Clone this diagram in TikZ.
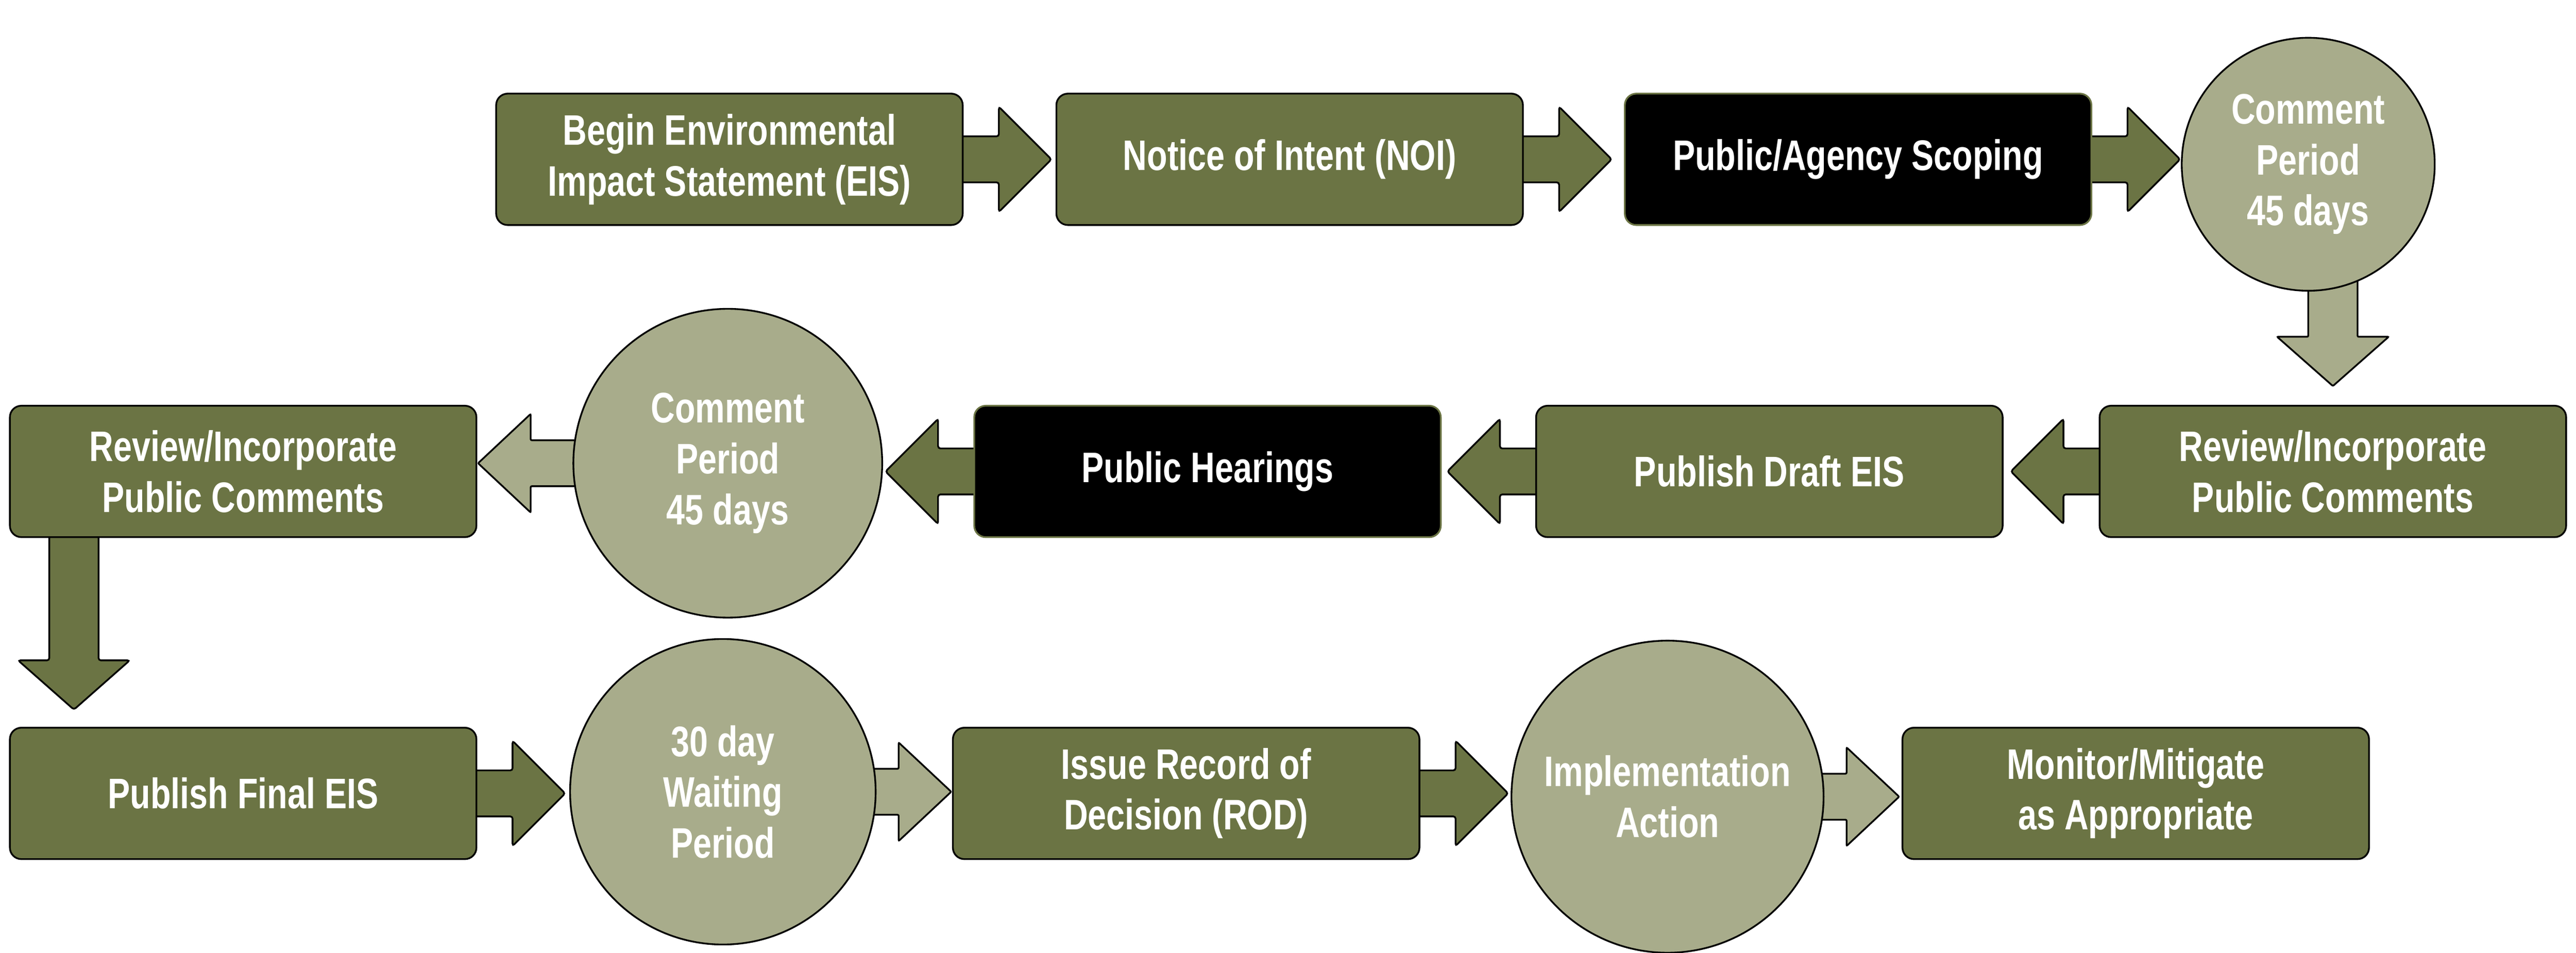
\documentclass[tikz,border=0pt]{standalone}
\usepackage{fontspec}
\setmainfont{Liberation Sans}[FakeStretch=0.78]
\usetikzlibrary{calc}
\definecolor{olive}{HTML}{6B7444}
\definecolor{sage}{HTML}{A8AC8B}
\newcommand\blkarrow[7]{%
 \begin{scope}[shift={(#1)},rotate=#3]
 \draw[#7] (-6,#4) -- ({#2-#6},#4) -- ({#2-#6},#5) -- (#2,0) -- ({#2-#6},-#5) -- ({#2-#6},-#4) -- (-6,-#4) -- cycle;
 \end{scope}}
\begin{document}
\begin{tikzpicture}[x=0.05cm,y=-0.05cm,
 txt/.style={text=white,font=\bfseries\fontsize{37}{44}\selectfont,align=center},
 box/.style={txt,draw=black,line width=1.5pt,fill=olive,rounded corners=0.35cm,minimum width=14.2cm,minimum height=4cm,inner sep=0pt},
 bbox/.style={box,fill=black,draw=olive},
 circ/.style={txt,circle,draw=black,line width=1.5pt,fill=sage,inner sep=0pt},
 barr/.style={fill=olive,draw=black,line width=1.5pt,rounded corners=2pt},
 carr/.style={fill=sage,draw=black,line width=1.5pt,rounded corners=1pt}]
\useasboundingbox (0,0) rectangle (1568,580);
% nodes positions
\coordinate (b1) at (444,97);
\coordinate (b2) at (785,97);
\coordinate (b3) at (1131,97);
\coordinate (c1) at (1405,100);
\coordinate (b4) at (1420,287);
\coordinate (b5) at (1077,287);
\coordinate (b6) at (735,287);
\coordinate (c2) at (443,282);
\coordinate (b7) at (148,287);
\coordinate (b8) at (148,483);
\coordinate (c3) at (440,482);
\coordinate (b9) at (722,483);
\coordinate (c4) at (1015,485);
\coordinate (b10) at (1300,483);
% arrows
\blkarrow{$(b1)+(142,0)$}{54}{0}{14}{32}{32}{barr}
\blkarrow{$(b2)+(142,0)$}{54}{0}{14}{32}{32}{barr}
\blkarrow{$(b3)+(142,0)$}{54}{0}{14}{32}{32}{barr}
\blkarrow{$(c1)+(15,70)$}{65}{-90}{15}{34}{30}{carr}
\blkarrow{$(b4)+(-142,0)$}{54}{180}{14}{32}{32}{barr}
\blkarrow{$(b5)+(-142,0)$}{54}{180}{14}{32}{32}{barr}
\blkarrow{$(b6)+(-142,0)$}{54}{180}{14}{32}{32}{barr}
\blkarrow{$(c2)+(-90,0)$}{62}{180}{14}{30}{32}{carr}
\blkarrow{$(b7)+(-103,40)$}{105}{-90}{15}{34}{30}{barr}
\blkarrow{$(b8)+(142,0)$}{54}{0}{14}{32}{32}{barr}
\blkarrow{$(c3)+(90,0)$}{49}{0}{14}{30}{32}{carr}
\blkarrow{$(b9)+(142,0)$}{54}{0}{14}{32}{32}{barr}
\blkarrow{$(c4)+(90,0)$}{51}{0}{14}{30}{32}{carr}
% shapes
\node[box] (n1) at (b1) {Begin Environmental\\Impact Statement (EIS)};
\node[box] (n2) at (b2) {Notice of Intent (NOI)};
\node[bbox] (n3) at (b3) {Public/Agency Scoping};
\node[circ,minimum size=7.7cm] (n4) at (c1) {Comment\\Period\\45 days};
\node[box] (n5) at (b4) {Review/Incorporate\\Public Comments};
\node[box] (n6) at (b5) {Publish Draft EIS};
\node[bbox] (n7) at (b6) {Public Hearings};
\node[circ,minimum size=9.4cm] (n8) at (c2) {Comment\\Period\\45 days};
\node[box] (n9) at (b7) {Review/Incorporate\\Public Comments};
\node[box] (n10) at (b8) {Publish Final EIS};
\node[circ,minimum size=9.3cm] (n11) at (c3) {30 day\\Waiting\\Period};
\node[box] (n12) at (b9) {Issue Record of\\Decision (ROD)};
\node[circ,minimum size=9.5cm] (n13) at (c4) {Implementation\\Action};
\node[box] (n14) at (b10) {Monitor/Mitigate\\as Appropriate};
\end{tikzpicture}
\end{document}
